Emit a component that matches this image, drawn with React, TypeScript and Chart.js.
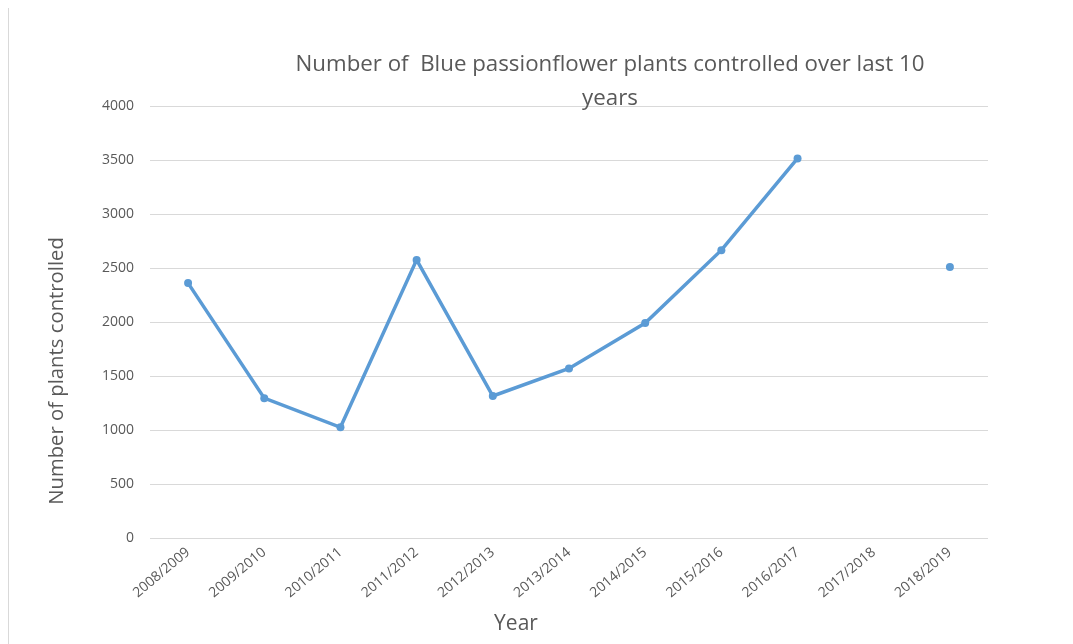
import React, { useEffect, useRef } from "react";
import { Chart, registerables } from "chart.js";

Chart.register(...registerables);

// Season labels along the category axis
const seasons = [
  "2008/2009",
  "2009/2010",
  "2010/2011",
  "2011/2012",
  "2012/2013",
  "2013/2014",
  "2014/2015",
  "2015/2016",
  "2016/2017",
  "2017/2018",
  "2018/2019",
];

// Plants controlled per season (no record for 2017/2018)
const plantsControlled: (number | null)[] = [
  2360, 1295, 1025, 2575, 1315, 1570, 1990, 2665, 3515, null, 2510,
];

const titleLines = [
  "Number of  Blue passionflower plants controlled over last 10",
  "years",
];
const yAxisTitle = "Number of plants controlled";
const xAxisTitle = "Year";

const yMin = 0;
const yMax = 4000;
const yStep = 500;

const TEXT = "#595959";
const GRID = "#d9d9d9";
const LINE = "#5b9bd5";
const FONT = "'Open Sans', sans-serif";

// White backdrop with the chart frame's top and left edges
const framePlugin = {
  id: "frame",
  beforeDraw(chart: Chart) {
    const { ctx, width, height } = chart;
    ctx.save();
    ctx.fillStyle = "#fff";
    ctx.fillRect(0, 0, width, height);
    ctx.fillStyle = GRID;
    ctx.fillRect(0, 0, width, 1);
    ctx.fillRect(0, 0, 1, height);
    ctx.restore();
  },
};

// Draws the wrapped chart heading and both axis titles as free text
const headingPlugin = {
  id: "heading",
  afterDraw(chart: Chart) {
    const { ctx } = chart;
    ctx.save();
    ctx.fillStyle = TEXT;
    ctx.textAlign = "center";
    ctx.textBaseline = "alphabetic";
    ctx.font = `22.3px ${FONT}`;
    ctx.fillText(titleLines[0], 602, 64);
    ctx.fillText(titleLines[1], 602, 98);
    ctx.font = `21px ${FONT}`;
    ctx.fillText(xAxisTitle, 508, 623);
    ctx.translate(55, 364);
    ctx.rotate(-Math.PI / 2);
    ctx.font = `20.3px ${FONT}`;
    ctx.fillText(yAxisTitle, 0, 0);
    ctx.restore();
  },
};

export default function App() {
  const canvasRef = useRef<HTMLCanvasElement | null>(null);

  useEffect(() => {
    document.documentElement.style.overflow = "hidden";
    document.body.style.overflow = "hidden";
    const canvas = canvasRef.current;
    if (!canvas) return;
    const chart = new Chart(canvas, {
      type: "line",
      data: {
        labels: seasons,
        datasets: [
          {
            label: "Plants controlled",
            data: plantsControlled,
            borderColor: LINE,
            backgroundColor: LINE,
            borderWidth: 3.5,
            pointRadius: 4,
            pointHoverRadius: 4,
            pointBackgroundColor: LINE,
            pointBorderColor: LINE,
            pointBorderWidth: 0,
            spanGaps: false,
            tension: 0,
          },
        ],
      },
      options: {
        responsive: false,
        animation: false,
        layout: { padding: { top: 99, right: 85, left: 30, bottom: 0 } },
        plugins: {
          legend: { display: false },
          title: { display: false },
          tooltip: { enabled: false },
        },
        scales: {
          x: {
            offset: true,
            grid: { display: false, drawTicks: false },
            border: { display: false },
            ticks: {
              color: TEXT,
              font: { family: FONT, size: 14 },
              minRotation: 40,
              maxRotation: 40,
              autoSkip: false,
              padding: 6,
            },
            afterFit(scale: any) {
              scale.height = 106;
            },
          },
          y: {
            min: yMin,
            max: yMax,
            grid: { color: GRID, lineWidth: 1, drawTicks: false, tickLength: 0 },
            border: { display: false },
            ticks: {
              stepSize: yStep,
              color: TEXT,
              font: { family: FONT, size: 14 },
              padding: 16,
              callback: (value: any) => String(value),
            },
            afterFit(scale: any) {
              scale.width = 112;
            },
          },
        },
      },
      plugins: [framePlugin, headingPlugin],
    });
    return () => chart.destroy();
  }, []);

  return (
    <div style={{ position: "relative", top: -1, width: 1065, height: 637 }}>
      <canvas
        ref={canvasRef}
        width={1065}
        height={637}
        style={{ display: "block", width: 1065, height: 637 }}
      />
    </div>
  );
}
